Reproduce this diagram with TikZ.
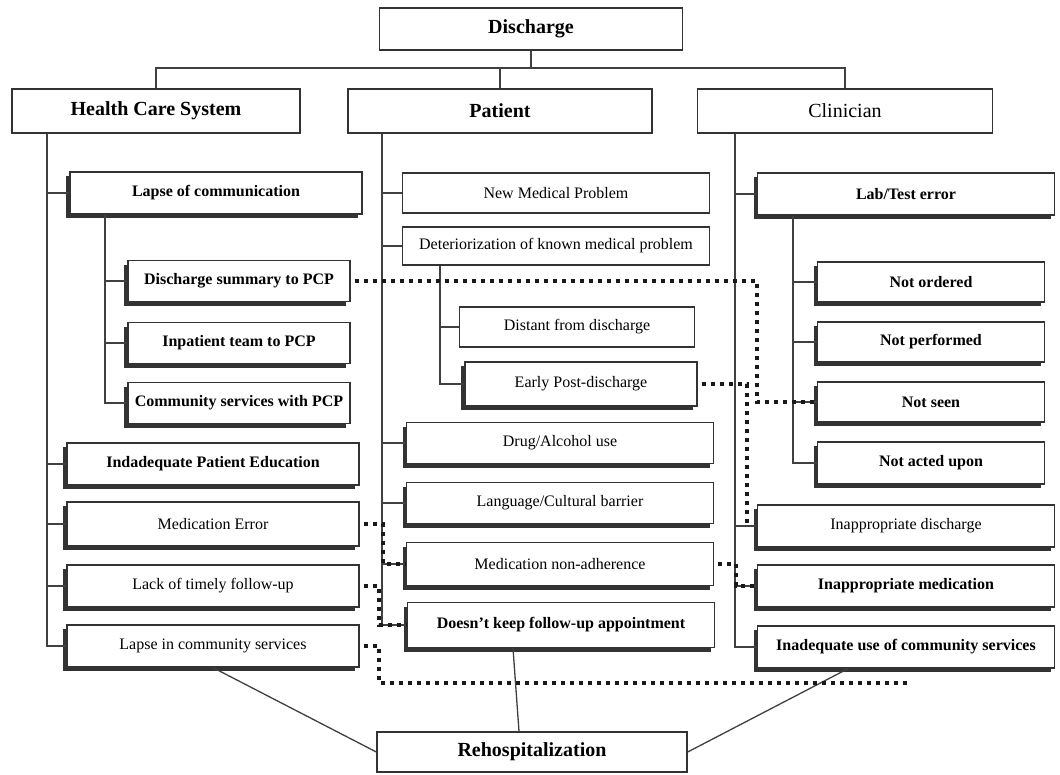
\documentclass[tikz,border=0pt]{standalone}
\usepackage{fontspec}
\setmainfont{Liberation Serif}
\usetikzlibrary{shadows}

\tikzset{
  box/.style={draw=black!80, line width=1.3pt, fill=white, inner sep=0pt,
    font=\fontsize{16}{19}\selectfont},
  headbox/.style={box, font=\fontsize{20}{24}\selectfont\bfseries},
  shbox/.style={box, drop shadow={shadow xshift=-4pt, shadow yshift=-4pt,
    fill=black!80, opacity=1}},
  hcsitem/.style={shbox, minimum width=292, minimum height=42},
  subitem/.style={shbox, minimum width=222, minimum height=41},
  patitem/.style={shbox, minimum width=307, minimum height=41},
  cliitem/.style={shbox, minimum width=297, minimum height=42},
  testitem/.style={shbox, minimum width=227, minimum height=40},
  link/.style={draw=black!75, line width=1.3pt},
  dotlink/.style={draw=black!90, line width=4.5pt, dash pattern=on 4pt off 5pt,
    shorten <=4pt},
}

\begin{document}
\begin{tikzpicture}[x=1pt,y=-1pt]
  \useasboundingbox[fill=white] (0,0) rectangle (1060,774);

  % top level
  \node[headbox, minimum width=303, minimum height=42] (dis) at (531,29) {Discharge};
  \node[headbox, minimum width=288, minimum height=44] (hcs) at (156,111) {Health Care System};
  \node[headbox, minimum width=304, minimum height=44] (pat) at (500,111) {Patient};
  \node[headbox, font=\fontsize{20}{24}\selectfont, minimum width=295, minimum height=44] (cli) at (845,111) {Clinician};
  \node[headbox, minimum width=310, minimum height=40] (rehosp) at (532,752) {Rehospitalization};

  % health care system
  \node[hcsitem, font=\fontsize{16}{19}\selectfont\bfseries] (lapsecomm) at (216,193) {Lapse of communication};
  \node[subitem, font=\fontsize{16}{19}\selectfont\bfseries] (dsum) at (239,281) {Discharge summary to PCP};
  \node[subitem, font=\fontsize{16}{19}\selectfont\bfseries] (inpt) at (239,343) {Inpatient team to PCP};
  \node[subitem, font=\fontsize{16}{19}\selectfont\bfseries] (comm) at (239,403) {Community services with PCP};
  \node[hcsitem, font=\fontsize{16}{19}\selectfont\bfseries] (educ) at (213,464) {Indadequate Patient Education};
  \node[hcsitem, minimum height=44] (mederr) at (213,524) {Medication Error};
  \node[hcsitem] (lackfu) at (213,586) {Lack of timely follow-up};
  \node[hcsitem] (lapsecs) at (213,646) {Lapse in community services};

  % patient
  \node[box, minimum width=307, minimum height=40] (newmed) at (556,193) {New Medical Problem};
  \node[box, minimum width=307, minimum height=38] (detmed) at (556,246) {Deteriorization of known medical problem};
  \node[box, minimum width=235, minimum height=40] (distant) at (577,327) {Distant from discharge};
  \node[shbox, minimum width=232, minimum height=44] (early) at (581,384) {Early Post-discharge};
  \node[patitem] (drug) at (560,443) {Drug/Alcohol use};
  \node[patitem] (lang) at (560,503) {Language/Cultural barrier};
  \node[patitem, minimum height=43] (nonadh) at (560,564) {Medication non-adherence};
  \node[patitem, minimum height=45, font=\fontsize{16}{19}\selectfont\bfseries] (nokeep) at (561,625) {Doesn't keep follow-up appointment};

  % clinician
  \node[cliitem, font=\fontsize{16}{19}\selectfont\bfseries] (labtest) at (906,194) {Lab/Test error};
  \node[testitem, font=\fontsize{16}{19}\selectfont\bfseries] (notord) at (931,282) {Not ordered};
  \node[testitem, font=\fontsize{16}{19}\selectfont\bfseries] (notperf) at (931,342) {Not performed};
  \node[testitem, font=\fontsize{16}{19}\selectfont\bfseries] (notseen) at (931,402) {Not seen};
  \node[testitem, minimum height=42, font=\fontsize{16}{19}\selectfont\bfseries] (notacted) at (931,463) {Not acted upon};
  \node[cliitem] (inapdis) at (906,526) {Inappropriate discharge};
  \node[cliitem, font=\fontsize{16}{19}\selectfont\bfseries] (inapmed) at (906,586) {Inappropriate medication};
  \node[cliitem, font=\fontsize{16}{19}\selectfont\bfseries] (inaduse) at (906,647) {Inadequate use of community services};

  \coordinate (bar) at (0,68);
  \coordinate (hcsx) at (47,0);
  \coordinate (lcx) at (105,0);
  \coordinate (patx) at (382,0);
  \coordinate (detx) at (440,0);
  \coordinate (clix) at (735,0);
  \coordinate (labx) at (793,0);

  \draw[link] (dis.south) -- (dis.south |- bar)
    (hcs.north) -- (hcs.north |- bar) -- (cli.north |- bar) -- (cli.north)
    (pat.north) -- (pat.north |- bar);

  \foreach \n in {lapsecomm,educ,mederr,lackfu,lapsecs}
    \draw[link] (hcs.south -| hcsx) |- (\n.west);
  \foreach \n in {dsum,inpt,comm}
    \draw[link] (lapsecomm.south -| lcx) |- (\n.west);
  \foreach \n in {newmed,detmed,drug,lang,nonadh,nokeep}
    \draw[link] (pat.south -| patx) |- (\n.west);
  \foreach \n in {distant,early}
    \draw[link] (detmed.south -| detx) |- (\n.west);
  \foreach \n in {labtest,inapdis,inapmed,inaduse}
    \draw[link] (cli.south -| clix) |- (\n.west);
  \foreach \n in {notord,notperf,notseen,notacted}
    \draw[link] (labtest.south -| labx) |- (\n.west);

  \draw[link] (lapsecs.south) -- (rehosp.west);
  \draw[link] ([xshift=-48pt]nokeep.south) -- ([xshift=-13pt]rehosp.north);
  \draw[link] ([xshift=-58pt]inaduse.south) -- (rehosp.east);

  % dotted links
  \coordinate (dj1) at (757,0);
  \coordinate (dj2) at (747,0);
  \coordinate (dj3) at (736,0);
  \coordinate (dj4) at (383,0);
  \coordinate (dj5) at (379,0);
  \coordinate (dend) at (908,683);

  \draw[dotlink] (dsum.east) -- (dsum.east -| dj1) -- (notseen.west -| dj1) -- (notseen.west);
  \draw[dotlink] (early.east) -- (early.east -| dj2) -- (inapdis.west -| dj2);
  \draw[dotlink] (nonadh.east) -- (nonadh.east -| dj3) -- (inapmed.west -| dj3) -- (inapmed.west);
  \draw[dotlink] (mederr.east) -- (mederr.east -| dj4) -- (nonadh.west -| dj4) -- (nonadh.west);
  \draw[dotlink] (lackfu.east) -- (lackfu.east -| dj5) -- (nokeep.west -| dj5) -- (nokeep.west);
  \draw[dotlink] (lapsecs.east) -- (lapsecs.east -| dj5) -- (dend -| dj5) -- (dend);
\end{tikzpicture}
\end{document}
